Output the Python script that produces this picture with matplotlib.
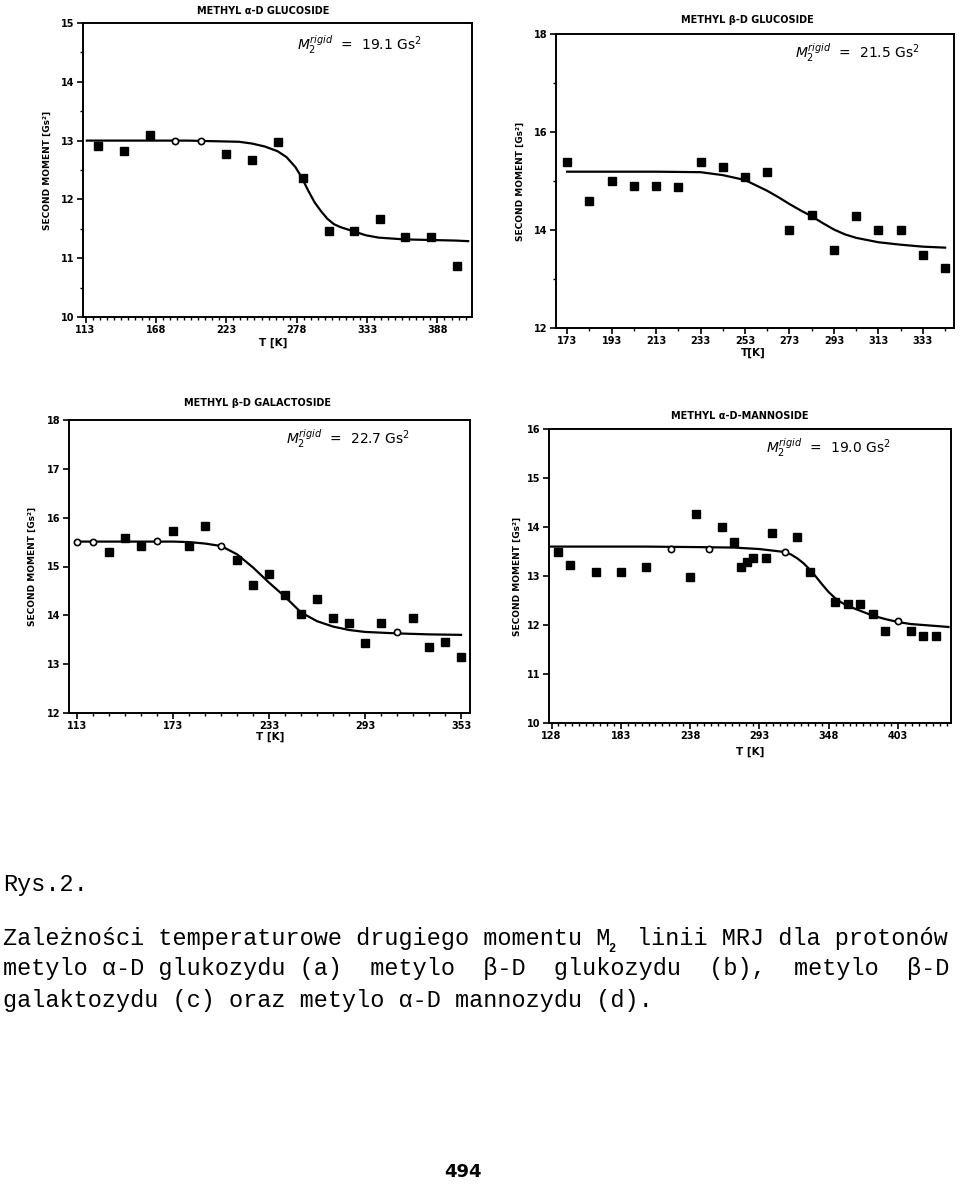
import matplotlib
matplotlib.use("Agg")
import matplotlib.pyplot as plt
from matplotlib.ticker import FixedLocator, MultipleLocator

# ---------------- data ----------------
# (a) methyl alpha-D glucoside
a_T = [123, 143, 163, 183, 203, 223, 243, 263, 283, 303, 323, 343, 363, 383, 403]
a_M2 = [12.90, 12.82, 13.10, 13.00, 13.00, 12.77, 12.67, 12.98, 12.37, 11.47, 11.47, 11.66, 11.36, 11.36, 10.86]
a_open = [183, 203]
a_fit_T = [114, 133, 153, 173, 193, 213, 233, 243, 253, 263, 270, 277, 282, 287, 292, 297, 302, 307, 312, 322, 332, 342, 362, 382, 402, 412]
a_fit_M2 = [13.0, 13.0, 13.0, 13.0, 13.0, 12.99, 12.98, 12.95, 12.90, 12.82, 12.72, 12.55, 12.37, 12.15, 11.95, 11.80, 11.67, 11.58, 11.53, 11.46, 11.39, 11.35, 11.32, 11.31, 11.30, 11.29]

# (b) methyl beta-D glucoside
b_T = [173, 183, 193, 203, 213, 223, 233, 243, 253, 263, 273, 283, 293, 303, 313, 323, 333, 343]
b_M2 = [15.39, 14.60, 14.99, 14.89, 14.90, 14.88, 15.39, 15.29, 15.09, 15.18, 14.00, 14.30, 13.60, 14.29, 14.00, 14.00, 13.50, 13.22]
b_open = []
b_fit_T = [173, 193, 213, 233, 243, 253, 263, 268, 273, 278, 283, 288, 293, 298, 303, 313, 323, 333, 343]
b_fit_M2 = [15.19, 15.19, 15.19, 15.18, 15.12, 15.02, 14.80, 14.67, 14.53, 14.40, 14.28, 14.14, 14.01, 13.91, 13.84, 13.75, 13.70, 13.66, 13.64]

# (c) methyl beta-D galactoside
c_T = [113, 123, 133, 143, 153, 163, 173, 183, 193, 203, 213, 223, 233, 243, 253, 263, 273, 283, 293, 303, 313, 323, 333, 343, 353]
c_M2 = [15.50, 15.50, 15.30, 15.59, 15.42, 15.52, 15.72, 15.43, 15.82, 15.43, 15.13, 14.62, 14.84, 14.42, 14.03, 14.34, 13.95, 13.84, 13.43, 13.84, 13.65, 13.95, 13.35, 13.46, 13.15]
c_open = [113, 123, 163, 203, 313]
c_fit_T = [113, 143, 173, 183, 193, 203, 213, 223, 233, 243, 253, 263, 273, 283, 293, 313, 333, 353]
c_fit_M2 = [15.51, 15.51, 15.51, 15.50, 15.47, 15.42, 15.25, 14.98, 14.67, 14.38, 14.06, 13.88, 13.77, 13.70, 13.66, 13.63, 13.61, 13.60]

# (d) methyl alpha-D mannoside
d_T = [133, 143, 163, 183, 203, 223, 238, 243, 253, 263, 273, 278, 283, 288, 298, 303, 313, 323, 333, 353, 363, 373, 383, 393, 403, 413, 423, 433]
d_M2 = [13.49, 13.23, 13.08, 13.08, 13.19, 13.56, 12.97, 14.27, 13.56, 13.99, 13.69, 13.19, 13.29, 13.37, 13.37, 13.88, 13.49, 13.79, 13.09, 12.47, 12.42, 12.42, 12.23, 11.88, 12.08, 11.88, 11.78, 11.78]
d_open = [223, 253, 313, 403]
d_fit_T = [127, 163, 203, 243, 273, 293, 303, 313, 318, 323, 328, 333, 338, 343, 348, 353, 358, 363, 373, 383, 393, 403, 413, 423, 433, 443]
d_fit_M2 = [13.60, 13.60, 13.60, 13.59, 13.58, 13.55, 13.52, 13.49, 13.44, 13.36, 13.26, 13.13, 12.98, 12.82, 12.67, 12.55, 12.46, 12.39, 12.29, 12.19, 12.12, 12.06, 12.02, 12.00, 11.98, 11.96]

titles = ["METHYL \u03b1-D GLUCOSIDE", "METHYL \u03b2-D GLUCOSIDE",
          "METHYL \u03b2-D GALACTOSIDE", "METHYL \u03b1-D-MANNOSIDE"]
rigid = ["19.1", "21.5", "22.7", "19.0"]
xlabels = ["T [K]", "T[K]", "T [K]", "T [K]"]
ylabel = "SECOND MOMENT [Gs\u00b2]"

a_xticks = [113, 168, 223, 278, 333, 388]
b_xticks = [173, 193, 213, 233, 253, 273, 293, 313, 333]
c_xticks = [113, 173, 233, 293, 353]
d_xticks = [128, 183, 238, 293, 348, 403]
a_yticks = [10, 11, 12, 13, 14, 15]
b_yticks = [12, 14, 16, 18]
c_yticks = [12, 13, 14, 15, 16, 17, 18]
d_yticks = [10, 11, 12, 13, 14, 15, 16]

caption_head = "Rys.2."
caption_l1a = "Zale\u017cno\u015bci temperaturowe drugiego momentu M"
caption_l1b = "linii MRJ dla proton\u00f3w"
caption_l2 = "metylo \u03b1-D glukozydu (a)  metylo  \u03b2-D  glukozydu  (b),  metylo  \u03b2-D"
caption_l3 = "galaktozydu (c) oraz metylo \u03b1-D mannozydu (d)."
page_no = "494"

# ---------------- layout ----------------
W, H = 960, 1201
fig = plt.figure(figsize=(W / 100, H / 100), dpi=100)
fig.patch.set_facecolor("white")

def box(l, t, r, b):
    return [l / W, 1 - b / H, (r - l) / W, (b - t) / H]

panels = [
    dict(rect=box(83, 23, 472, 317), xlim=(111, 415), ylim=(10, 15),
         T=a_T, M=a_M2, op=a_open, fT=a_fit_T, fM=a_fit_M2,
         xt=a_xticks, xminor=5.5, yt=a_yticks, yminor=0.5,
         title_xy=(263, 11), xl_xy=(273, 343), ann=(0.55, 0.925), ylx=31),
    dict(rect=box(556, 34, 954, 328), xlim=(168, 347), ylim=(12, 18),
         T=b_T, M=b_M2, op=b_open, fT=b_fit_T, fM=b_fit_M2,
         xt=b_xticks, xminor=10, yt=b_yticks, yminor=1,
         title_xy=(747, 20), xl_xy=(753, 353), ann=(0.60, 0.935), ylx=31),
    dict(rect=box(69, 420, 470, 713), xlim=(108, 358.6), ylim=(12, 18),
         T=c_T, M=c_M2, op=c_open, fT=c_fit_T, fM=c_fit_M2,
         xt=c_xticks, xminor=10, yt=c_yticks, yminor=None,
         title_xy=(258, 403), xl_xy=(270, 737), ann=(0.54, 0.935), ylx=32),
    dict(rect=box(549, 429, 951, 723), xlim=(126, 445), ylim=(10, 16),
         T=d_T, M=d_M2, op=d_open, fT=d_fit_T, fM=d_fit_M2,
         xt=d_xticks, xminor=5.5, yt=d_yticks, yminor=None,
         title_xy=(740, 416), xl_xy=(750, 752), ann=(0.54, 0.935), ylx=27),
]

for i, p in enumerate(panels):
    ax = fig.add_axes(p["rect"])
    for s in ax.spines.values():
        s.set_linewidth(1.4)
        s.set_color("black")
    ax.set_xlim(*p["xlim"])
    ax.set_ylim(*p["ylim"])
    ax.plot(p["fT"], p["fM"], color="black", lw=1.6, zorder=2)
    fT = [t for t, m in zip(p["T"], p["M"]) if t not in p["op"]]
    fM = [m for t, m in zip(p["T"], p["M"]) if t not in p["op"]]
    oT = [t for t, m in zip(p["T"], p["M"]) if t in p["op"]]
    oM = [m for t, m in zip(p["T"], p["M"]) if t in p["op"]]
    ax.plot(fT, fM, linestyle="none", marker="s", ms=5.2, color="black", zorder=3)
    ax.plot(oT, oM, linestyle="none", marker="o", ms=4.5, mfc="white", mec="black",
            mew=1.2, zorder=3)
    ax.xaxis.set_major_locator(FixedLocator(p["xt"]))
    ax.set_xticklabels([str(v) for v in p["xt"]])
    mnr = []
    v = p["xt"][0]
    while v > p["xlim"][0]:
        v -= p["xminor"]
    v += p["xminor"]
    while v < p["xlim"][1]:
        mnr.append(v)
        v += p["xminor"]
    ax.xaxis.set_minor_locator(FixedLocator(mnr))
    ax.yaxis.set_major_locator(FixedLocator(p["yt"]))
    ax.set_yticklabels([str(v) for v in p["yt"]])
    if p["yminor"]:
        ax.yaxis.set_minor_locator(MultipleLocator(p["yminor"]))
    ax.tick_params(which="major", direction="out", length=4, width=1.2,
                   labelsize=7, pad=2)
    ax.tick_params(which="minor", direction="out", length=2.5, width=1.0)
    for lab in ax.get_xticklabels() + ax.get_yticklabels():
        lab.set_fontweight("bold")
    ax.set_ylabel(ylabel, fontsize=6.5, fontweight="bold")
    ax.yaxis.set_label_coords(-p["ylx"] / (p["rect"][2] * W), 0.5)
    fig.text(p["xl_xy"][0] / W, 1 - p["xl_xy"][1] / H, xlabels[i], fontsize=7.5,
             fontweight="bold", ha="center", va="center")
    fig.text(p["title_xy"][0] / W, 1 - p["title_xy"][1] / H, titles[i], fontsize=7,
             fontweight="bold", ha="center", va="center")
    ax.text(p["ann"][0], p["ann"][1],
            r"$M_2^{rigid}$  =  " + rigid[i] + r" Gs$^2$",
            transform=ax.transAxes, fontsize=10, ha="left", va="center")

# ---------------- caption ----------------
mono = ["Liberation Mono", "DejaVu Sans Mono"]
fs = 16.9
cw = 0.6 * fs * 100 / 72  # character advance in px
x0 = 3
fig.text(x0 / W, 1 - 885 / H, caption_head, family=mono, fontsize=fs, va="center", ha="left")
fig.text(x0 / W, 1 - 938 / H, caption_l1a, family=mono, fontsize=fs, va="center", ha="left")
n1 = len(caption_l1a)
fig.text((x0 + n1 * cw) / W, 1 - 949 / H, "2", family=mono, fontsize=8.5,
         fontweight="bold", va="center", ha="left")
fig.text((x0 + (n1 + 2) * cw) / W, 1 - 938 / H, caption_l1b, family=mono, fontsize=fs,
         va="center", ha="left")
fig.text(x0 / W, 1 - 969 / H, caption_l2, family=mono, fontsize=fs, va="center", ha="left")
fig.text(x0 / W, 1 - 1000 / H, caption_l3, family=mono, fontsize=fs, va="center", ha="left")

fig.text(463 / W, 1 - 1172 / H, page_no, family=["Liberation Sans Narrow", "DejaVu Sans"],
         fontsize=13, fontweight="bold", va="center", ha="center")

fig.savefig("out.png", dpi=100, facecolor="white")
